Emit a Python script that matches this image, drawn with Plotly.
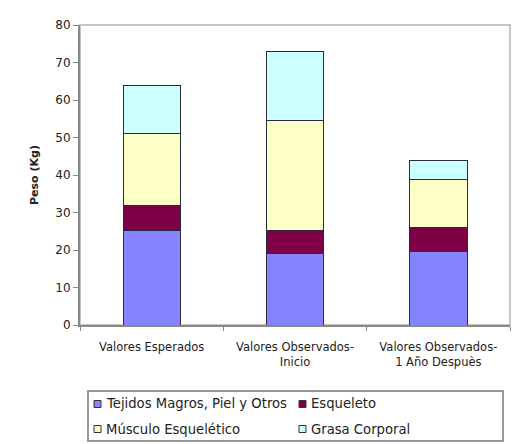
import plotly.graph_objects as go

# Peso corporal por componente (kg)
categorias = ["Valores Esperados", "Valores Observados-<br>Inicio", "Valores Observados-<br>1 Año Despuès"]
tejidos = [25.3, 19.0, 19.7]
esqueleto = [6.7, 6.2, 6.2]
musculo = [19.2, 29.4, 13.0]
grasa = [12.8, 18.4, 4.9]

nombres = ["Tejidos Magros, Piel y Otros", "Esqueleto", "Músculo Esquelético", "Grasa Corporal"]
valores = [tejidos, esqueleto, musculo, grasa]
colores = ["#8484FF", "#7E0046", "#FFFFC8", "#CCFFFF"]

y_ticks = list(range(0, 81, 10))

W, H = 512, 444
M_L, M_R, M_T, M_B = 80, 2, 25, 119
PW, PH = W - M_L - M_R, H - M_T - M_B


def px_x(px):
    return (px - M_L) / PW


def px_y(py):
    return (H - M_B - py) / PH


fig = go.Figure()
for nombre, vals, color in zip(nombres, valores, colores):
    fig.add_trace(go.Bar(
        x=categorias, y=vals, name=nombre, showlegend=False,
        marker=dict(color=color, line=dict(color="#2a2a3a", width=1)),
    ))

font = "DejaVu Sans, Verdana, sans-serif"
txt = "#222"

# legend box with two columns of keys
key_cols = [97.5, 302.5]
key_rows = [404, 429]
shapes = [
    dict(type="rect", xref="paper", yref="paper", x0=0, x1=1, y0=0, y1=1,
         line=dict(color="#b4b4b4", width=1.5), layer="below"),
    dict(type="rect", xref="paper", yref="paper",
         x0=px_x(88), x1=px_x(503), y0=px_y(391), y1=px_y(441),
         line=dict(color="#9a9a9a", width=2)),
]
annotations = []
for i, (nombre, color) in enumerate(zip(nombres, colores)):
    cx = key_cols[i % 2]
    cy = key_rows[i // 2]
    shapes.append(dict(
        type="rect", xref="paper", yref="paper",
        x0=px_x(cx - 3.5), x1=px_x(cx + 3.5), y0=px_y(cy - 3.5), y1=px_y(cy + 3.5),
        fillcolor=color, line=dict(color="#333", width=1),
    ))
    annotations.append(dict(
        text=nombre, xref="paper", yref="paper", x=px_x(cx + 6), y=px_y(cy),
        xanchor="left", yanchor="middle", showarrow=False,
        font=dict(family=font, size=13.2, color=txt),
    ))

fig.update_layout(
    width=W, height=H,
    margin=dict(l=M_L, r=M_R, t=M_T, b=M_B),
    paper_bgcolor="white", plot_bgcolor="white",
    barmode="stack", bargap=0.6,
    font=dict(family=font, size=11.5, color=txt),
    showlegend=False,
    xaxis=dict(
        showline=True, linecolor="#888", linewidth=2,
        ticks="outside", tickson="boundaries", ticklen=4, tickcolor="#888",
        tickfont=dict(size=11.5, color=txt), automargin=False,
        ticklabelstandoff=10,
    ),
    yaxis=dict(
        range=[0, 80], tickvals=y_ticks, showgrid=False,
        showline=True, linecolor="#888", linewidth=2,
        ticks="outside", ticklen=5, tickcolor="#888",
        tickfont=dict(size=12, color=txt),
        title=dict(text="<b>Peso (Kg)</b>", font=dict(size=11, color=txt), standoff=14),
        zeroline=False, automargin=False,
    ),
    shapes=shapes,
    annotations=annotations,
)

fig.write_html("out.html")
